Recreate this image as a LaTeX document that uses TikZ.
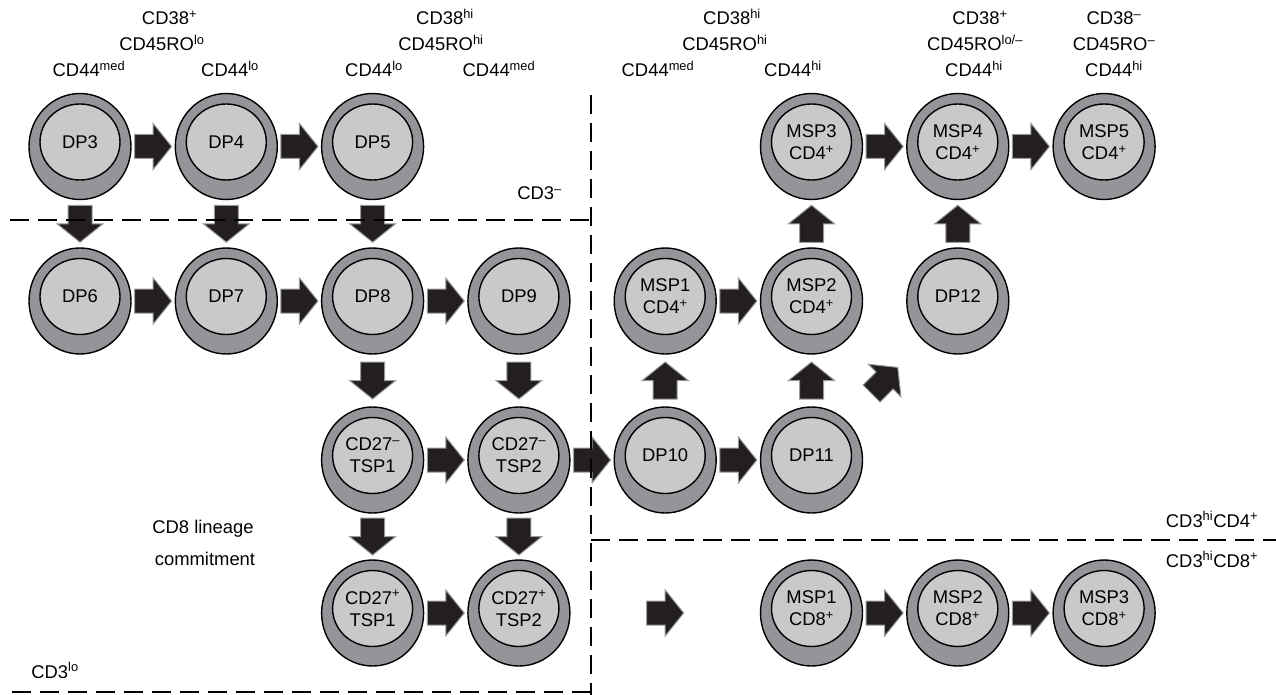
\documentclass[tikz,border=0pt]{standalone}
\usepackage{fontspec}
\setmainfont{Liberation Sans}
\usetikzlibrary{calc,shapes.geometric}
\definecolor{ringgray}{HTML}{939598}
\definecolor{cellgray}{HTML}{C8C9CB}
\definecolor{arrowfill}{HTML}{231F20}
\newcommand{\sps}[1]{\textsuperscript{#1}}
\newcommand{\mkcell}[4]{%
  \node[cellouter] (#1) at (#2,#3) {};
  \node[cellinner] (#1i) at ([yshift=4.5pt]#1.center) {#4};}
\newcommand{\harrow}[2]{\pic at ($(#1.east)!0.5!(#2.west)$) {blockarrow};}
\newcommand{\darrow}[2]{\pic[rotate=-90] at ($(#1.south)!0.5!(#2.north)$) {blockarrow};}
\newcommand{\uarrow}[2]{\pic[rotate=90] at ($(#1.north)!0.5!(#2.south)$) {blockarrow};}
\begin{document}
\begin{tikzpicture}[x=1pt,y=-1pt,
  every node/.style={font=\fontsize{18.4}{22}\selectfont},
  cellouter/.style={ellipse, draw=black, line width=1.4pt, fill=ringgray,
    minimum width=102pt, minimum height=106pt, inner sep=0pt},
  cellinner/.style={ellipse, draw=black, line width=1.4pt, fill=cellgray,
    minimum width=80pt, minimum height=76pt, inner sep=0pt, align=center},
  lbl/.style={anchor=base, inner sep=0pt},
  region/.style={line width=2.2pt, dash pattern=on 19pt off 9pt},
  blockarrow/.pic={\filldraw[fill=arrowfill, draw=gray!80, line width=1pt, line join=miter]
    (-18.5,-12) -- (0,-12) -- (0,-23) -- (18.5,0) -- (0,23) -- (0,12) -- (-18.5,12) -- cycle;}
]
\useasboundingbox (0,0) rectangle (1276,695);

% cells, row 1
\mkcell{dp3}{80}{146.5}{DP3}
\mkcell{dp4}{226.3}{146.5}{DP4}
\mkcell{dp5}{372.6}{146.5}{DP5}
\mkcell{msp3}{811.5}{146.5}{MSP3\\CD4\sps{+}}
\mkcell{msp4}{957.8}{146.5}{MSP4\\CD4\sps{+}}
\mkcell{msp5}{1104.1}{146.5}{MSP5\\CD4\sps{+}}
% row 2
\mkcell{dp6}{80}{301}{DP6}
\mkcell{dp7}{226.3}{301}{DP7}
\mkcell{dp8}{372.6}{301}{DP8}
\mkcell{dp9}{518.9}{301}{DP9}
\mkcell{msp1}{665.2}{301}{MSP1\\CD4\sps{+}}
\mkcell{msp2}{811.5}{301}{MSP2\\CD4\sps{+}}
\mkcell{dp12}{957.8}{301}{DP12}
% row 3
\mkcell{tspa1}{372.6}{460}{CD27\sps{–}\\TSP1}
\mkcell{tspa2}{518.9}{460}{CD27\sps{–}\\TSP2}
\mkcell{dp10}{665.2}{460}{DP10}
\mkcell{dp11}{811.5}{460}{DP11}
% row 4
\mkcell{tspb1}{372.6}{613}{CD27\sps{+}\\TSP1}
\mkcell{tspb2}{518.9}{613}{CD27\sps{+}\\TSP2}
\mkcell{msp1e}{811.5}{613}{MSP1\\CD8\sps{+}}
\mkcell{msp2e}{957.8}{613}{MSP2\\CD8\sps{+}}
\mkcell{msp3e}{1104.1}{613}{MSP3\\CD8\sps{+}}

% horizontal arrows
\harrow{dp3}{dp4}
\harrow{dp4}{dp5}
\harrow{msp3}{msp4}
\harrow{msp4}{msp5}
\harrow{dp6}{dp7}
\harrow{dp7}{dp8}
\harrow{dp8}{dp9}
\harrow{msp1}{msp2}
\harrow{tspa1}{tspa2}
\harrow{tspa2}{dp10}
\harrow{dp10}{dp11}
\harrow{tspb1}{tspb2}
\harrow{msp1e}{msp2e}
\harrow{msp2e}{msp3e}
\pic at ($(tspb2)!0.5!(msp1e)$) {blockarrow};
% down arrows
\darrow{dp3}{dp6}
\darrow{dp4}{dp7}
\darrow{dp5}{dp8}
\darrow{dp8}{tspa1}
\darrow{dp9}{tspa2}
\darrow{tspa1}{tspb1}
\darrow{tspa2}{tspb2}
% up arrows
\uarrow{dp10}{msp1}
\uarrow{dp11}{msp2}
\uarrow{msp2}{msp3}
\uarrow{dp12}{msp4}
% diagonal arrow
\pic[rotate=45] at ($(dp11)!0.5!(dp12)$) {blockarrow};

% region boundaries
\draw[region] (10,220) -- (591,220);
\draw[region] (591,95) -- (591,695);
\draw[region] (12,692) -- (591,692);
\draw[region] (591,540) -- (1276,540);

% labels
\node[lbl] (t1) at (169.5,25) {CD38\sps{+}};
\node[lbl] (t2) at (162,51) {CD45RO\sps{lo}};
\node[lbl] (t3) at (89,77) {CD44\sps{med}};
\node[lbl] (t4) at (230,77) {CD44\sps{lo}};
\node[lbl] (t5) at (445,25) {CD38\sps{hi}};
\node[lbl] (t6) at (441,51) {CD45RO\sps{hi}};
\node[lbl] (t7) at (374,77) {CD44\sps{lo}};
\node[lbl] (t8) at (499,77) {CD44\sps{med}};
\node[lbl] (t9) at (732,25) {CD38\sps{hi}};
\node[lbl] (t10) at (725,51) {CD45RO\sps{hi}};
\node[lbl] (t11) at (658,77) {CD44\sps{med}};
\node[lbl] (t12) at (793,77) {CD44\sps{hi}};
\node[lbl] (t13) at (980,25) {CD38\sps{+}};
\node[lbl] (t14) at (975,51) {CD45RO\sps{lo/–}};
\node[lbl] (t15) at (974,77) {CD44\sps{hi}};
\node[lbl] (t16) at (1114,25) {CD38\sps{–}};
\node[lbl] (t17) at (1114,51) {CD45RO\sps{–}};
\node[lbl] (t18) at (1114,77) {CD44\sps{hi}};
\node[lbl] (cd3neg) at (539.5,200) {CD3\sps{–}};
\node[lbl] (cd3lo) at (55,678) {CD3\sps{lo}};
\node[lbl] (cd8a) at (203,533) {CD8 lineage};
\node[lbl] (cd8b) at (205,565) {commitment};
\node[lbl] (cd4r) at (1212,527) {CD3\sps{hi}CD4\sps{+}};
\node[lbl] (cd8r) at (1212,567) {CD3\sps{hi}CD8\sps{+}};
\end{tikzpicture}
\end{document}
